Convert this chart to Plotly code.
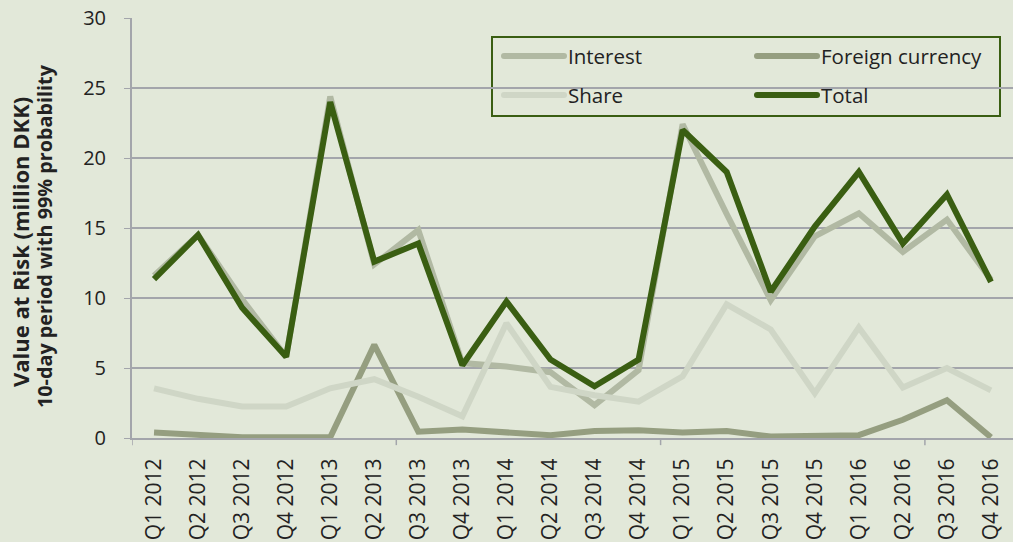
import plotly.graph_objects as go

categories = ["Q1 2012", "Q2 2012", "Q3 2012", "Q4 2012",
              "Q1 2013", "Q2 2013", "Q3 2013", "Q4 2013",
              "Q1 2014", "Q2 2014", "Q3 2014", "Q4 2014",
              "Q1 2015", "Q2 2015", "Q3 2015", "Q4 2015",
              "Q1 2016", "Q2 2016", "Q3 2016", "Q4 2016"]

interest = [11.6, 14.5, 9.9, 5.8, 24.4, 12.4, 14.85, 5.35, 5.1, 4.7,
            2.35, 4.85, 22.4, 16.0, 9.85, 14.4, 16.05, 13.3, 15.6, 11.3]
foreign_currency = [0.4, 0.25, 0.05, 0.05, 0.05, 6.65, 0.45, 0.6, 0.45, 0.2,
                    0.5, 0.55, 0.4, 0.5, 0.1, 0.2, 0.2, 1.3, 2.7, 0.05]
share = [3.55, 2.8, 2.25, 2.25, 3.55, 4.2, 2.95, 1.55, 8.2, 3.65,
         3.05, 2.6, 4.4, 9.55, 7.75, 3.2, 7.9, 3.6, 5.0, 3.4]
total = [11.35, 14.5, 9.3, 5.8, 24.0, 12.6, 13.9, 5.2, 9.75, 5.6,
         3.7, 5.6, 22.0, 19.0, 10.45, 15.1, 19.0, 13.9, 17.4, 11.15]

y_ticks = [0, 5, 10, 15, 20, 25, 30]
boundary_ticks = [-0.5, 5.5, 11.5, 17.5]

BG = "#e2e8d9"
FONT = "Open Sans"
TXT = "#222222"
GRID = "#a3a5ab"
DARK = "#3a5e12"

W, H = 1013, 542
ML, MR, MT, MB = 132, 0, 18, 104
PW, PH = W - ML - MR, H - MT - MB


def px(x):
    return (x - ML) / PW


def py(y):
    return (H - MB - y) / PH


fig = go.Figure()
# name, values, colour, legend column x (px), legend row y (px)
series = [("Interest", interest, "#b1b9a3", 504, 56),
          ("Foreign currency", foreign_currency, "#959e80", 757, 56),
          ("Share", share, "#cfd6c6", 504, 95),
          ("Total", total, DARK, 757, 95)]

shapes = []
annotations = []
# legend frame
shapes.append(dict(type="rect", xref="paper", yref="paper", layer="between",
                   x0=px(492), x1=px(1000), y0=py(116), y1=py(37),
                   fillcolor=BG, line=dict(color=DARK, width=2)))

for name, vals, col, lx, ly in series:
    fig.add_trace(go.Scatter(x=categories, y=vals, name=name, showlegend=False,
                             mode="lines", line=dict(color=col, width=6)))
    shapes.append(dict(type="line", xref="paper", yref="paper",
                       x0=px(lx), x1=px(lx + 60), y0=py(ly), y1=py(ly),
                       line=dict(color=col, width=6)))
    for cx in (lx, lx + 60):
        shapes.append(dict(type="circle", xref="paper", yref="paper",
                           xsizemode="pixel", ysizemode="pixel",
                           xanchor=px(cx), yanchor=py(ly),
                           x0=-3, x1=3, y0=-3, y1=3,
                           fillcolor=col, line=dict(width=0)))
    annotations.append(dict(text=name, xref="paper", yref="paper",
                            x=px(lx + 62), y=py(ly), xanchor="left", yanchor="middle",
                            showarrow=False, font=dict(size=20.5, color=TXT)))

for b in boundary_ticks:
    shapes.append(dict(type="line", xref="x", yref="paper", x0=b, x1=b,
                       y0=0, y1=-0.017, line=dict(color=GRID, width=1.5)))

annotations += [
    dict(text="<b>Value at Risk (million DKK)</b>", xref="paper", yref="paper",
         x=0, y=py(242), xanchor="center", yanchor="middle", xshift=-112,
         textangle=-90, showarrow=False, font=dict(size=22, color=TXT)),
    dict(text="<b>10-day period with 99% probability</b>", xref="paper", yref="paper",
         x=0, y=py(236), xanchor="center", yanchor="middle", xshift=-87,
         textangle=-90, showarrow=False, font=dict(size=19.8, color=TXT)),
]

fig.update_layout(
    width=W, height=H,
    paper_bgcolor=BG, plot_bgcolor=BG,
    margin=dict(l=ML, r=MR, t=MT, b=MB),
    font=dict(family=FONT, size=18, color=TXT),
    showlegend=False,
    xaxis=dict(type="category", range=[-0.5, 19.5], tickangle=-90,
               ticks="outside", ticklen=10, tickcolor="rgba(0,0,0,0)",
               showgrid=False, showline=True, linecolor=GRID, linewidth=2,
               tickfont=dict(size=21, color=TXT)),
    yaxis=dict(range=[0, 30], tickvals=y_ticks, ticks="outside", ticklen=6,
               tickcolor=GRID, showgrid=True, gridcolor=GRID, gridwidth=1.5,
               showline=True, linecolor=GRID, linewidth=2, zeroline=False,
               ticklabelstandoff=14, tickfont=dict(size=20, color=TXT)),
    shapes=shapes,
    annotations=annotations,
)

fig.write_html("out.html", config={"displayModeBar": False},
               post_script="document.body.style.margin='0';")
